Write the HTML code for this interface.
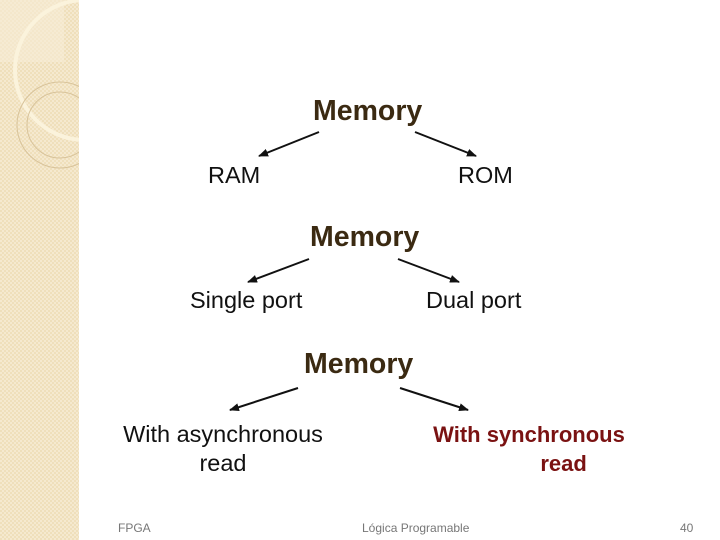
<!DOCTYPE html>
<html><head><style>
body{margin:0;width:720px;height:540px;background:#fff;position:relative;overflow:hidden;font-family:"Liberation Sans",sans-serif}
.t{position:absolute;white-space:nowrap;line-height:1}
.m{font-weight:bold;font-size:28.5px;color:#3b2a12}
.n{font-size:23.5px;color:#111}
</style></head><body>
<svg width="720" height="540" style="position:absolute;left:0;top:0">
<defs>
<pattern id="p" width="4" height="4" patternUnits="userSpaceOnUse"><rect width="4" height="4" fill="#efdfbb"/><rect width="2" height="2" fill="#f5e9cf"/><rect x="2" y="2" width="2" height="2" fill="#f5e9cf"/></pattern>
<marker id="a" markerWidth="10" markerHeight="8" refX="9" refY="4" orient="auto" markerUnits="userSpaceOnUse"><path d="M0,0L10,4L0,8z" fill="#111"/></marker>
<clipPath id="c"><rect width="79" height="540"/></clipPath>
</defs>
<rect width="79" height="540" fill="url(#p)"/>
<g clip-path="url(#c)">
<rect x="0" y="0" width="64" height="62" fill="#f6ecd6" opacity=".6"/>
<circle cx="85" cy="70" r="70" fill="none" stroke="#fbf3dc" stroke-width="4"/>
<circle cx="60" cy="125" r="43" fill="none" stroke="#d8c39a" stroke-width="1"/>
<circle cx="60" cy="125" r="33" fill="none" stroke="#d8c39a" stroke-width="1"/>
</g>
<g stroke="#111" stroke-width="2" marker-end="url(#a)">
<line x1="319" y1="132" x2="259" y2="156"/><line x1="415" y1="132" x2="476" y2="156"/>
<line x1="309" y1="259" x2="248" y2="282"/><line x1="398" y1="259" x2="459" y2="282"/>
<line x1="298" y1="388" x2="230" y2="410"/><line x1="400" y1="388" x2="468" y2="410"/>
</g>
</svg>
<div class="t m" style="left:313px;top:97px">Memory</div>
<div class="t n" style="left:208px;top:164px">RAM</div>
<div class="t n" style="left:458px;top:164px">ROM</div>
<div class="t m" style="left:310px;top:223px">Memory</div>
<div class="t n" style="left:190px;top:289px">Single port</div>
<div class="t n" style="left:426px;top:289px">Dual port</div>
<div class="t m" style="left:304px;top:350px">Memory</div>
<div class="t n" style="left:110px;top:420px;width:226px;text-align:center;line-height:29px;white-space:normal">With asynchronous read</div>
<div class="t n" style="left:425px;top:420px;width:208px;text-align:center;line-height:29px;color:#7a1212;font-weight:bold;font-size:22px">With synchronous<br><span style="margin-left:8px">&nbsp;&nbsp;&nbsp;&nbsp;&nbsp;&nbsp;&nbsp;&nbsp;&nbsp;&nbsp;read</span></div>
<div class="t" style="left:118px;top:522px;font-size:12px;color:#777">FPGA</div>
<div class="t" style="left:362px;top:522px;font-size:12px;color:#777">Lógica Programable</div>
<div class="t" style="left:680px;top:522px;font-size:12px;color:#777">40</div>
</body></html>
